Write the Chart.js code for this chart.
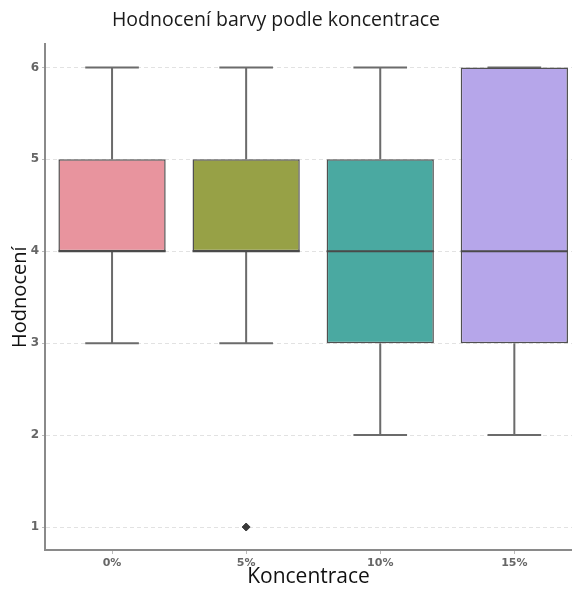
<!DOCTYPE html>
<html>
<head>
<meta charset="utf-8">
<script src="https://cdn.jsdelivr.net/npm/chart.js@4"></script>
<style>
  html, body { margin: 0; padding: 0; background: #fff; overflow: hidden; }
  canvas { display: block; }
</style>
</head>
<body>
<canvas id="boxChart" width="572" height="592"></canvas>
<script>
const categories = ['0%', '5%', '10%', '15%'];
const whiskerLow = [3, 3, 2, 2];
const q1 = [4, 4, 3, 3];
const medians = [4, 4, 4, 4];
const q3 = [5, 5, 5, 6];
const whiskerHigh = [6, 6, 6, 6];
const outlierCats = [1];
const outlierValues = [1];
const yTicks = [1, 2, 3, 4, 5, 6];
const boxColors = ['#e8949e', '#97a146', '#4aa9a1', '#b6a6ea'];

const lineGray = '#6b6b6b';

// whiskers under the boxes, medians on top
const whiskerPlugin = {
  id: 'whiskers',
  afterLayout(chart) {
    // title sits a little left of the canvas centre
    const t = chart.titleBlock;
    if (t) { t.left -= 20; }
  },
  beforeDatasetsDraw(chart) {
    const { ctx, scales: { x, y } } = chart;
    const meta = chart.getDatasetMeta(0);
    ctx.save();
    ctx.strokeStyle = lineGray;
    ctx.lineWidth = 2;
    categories.forEach((c, i) => {
      const cx = x.getPixelForValue(i);
      const half = meta.data[i].width / 4;
      const lo = y.getPixelForValue(whiskerLow[i]);
      const hi = y.getPixelForValue(whiskerHigh[i]);
      ctx.beginPath();
      ctx.moveTo(cx, lo);
      ctx.lineTo(cx, y.getPixelForValue(q1[i]));
      ctx.moveTo(cx, y.getPixelForValue(q3[i]));
      ctx.lineTo(cx, hi);
      ctx.moveTo(cx - half, lo);
      ctx.lineTo(cx + half, lo);
      ctx.moveTo(cx - half, hi);
      ctx.lineTo(cx + half, hi);
      ctx.stroke();
    });
    ctx.restore();
  },
  afterDatasetsDraw(chart) {
    const { ctx, scales: { x, y } } = chart;
    const meta = chart.getDatasetMeta(0);
    ctx.save();
    ctx.strokeStyle = '#4a4a4a';
    ctx.lineWidth = 2;
    categories.forEach((c, i) => {
      const bar = meta.data[i];
      const my = y.getPixelForValue(medians[i]);
      ctx.beginPath();
      ctx.moveTo(bar.x - bar.width / 2, my);
      ctx.lineTo(bar.x + bar.width / 2, my);
      ctx.stroke();
    });
    ctx.restore();
  }
};

const ctx = document.getElementById('boxChart').getContext('2d');
new Chart(ctx, {
  type: 'bar',
  data: {
    datasets: [{
      type: 'bar',
      data: categories.map((c, i) => ({ x: i, y: [q1[i], q3[i]] })),
      backgroundColor: boxColors,
      borderColor: '#505050',
      borderWidth: 1.5,
      borderSkipped: false,
      barPercentage: 0.8,
      categoryPercentage: 1,
      order: 2
    }, {
      type: 'scatter',
      data: outlierCats.map((c, i) => ({ x: c, y: outlierValues[i] })),
      pointStyle: 'rectRot',
      pointRadius: 4,
      backgroundColor: '#3a3a3a',
      borderColor: '#3a3a3a',
      order: 1
    }]
  },
  options: {
    responsive: false,
    animation: false,
    layout: { padding: 0, autoPadding: false },
    plugins: {
      legend: { display: false },
      tooltip: { enabled: false },
      title: {
        display: true,
        text: 'Hodnocení barvy podle koncentrace',
        color: '#1a1a1a',
        font: { family: 'Open Sans', size: 19.5, weight: 'normal' },
        padding: { top: 9, bottom: 12 }
      }
    },
    scales: {
      x: {
        type: 'linear',
        offset: false,
        min: -0.5,
        max: 3.43,
        afterBuildTicks: (scale) => { scale.ticks = categories.map((c, i) => ({ value: i })); },
        afterFit: (scale) => {
          scale.height = 42;
          scale.paddingLeft = 0;
          scale.paddingRight = 0;
        },
        ticks: {
          callback: (v) => categories[v],
          color: '#666',
          padding: 3,
          font: { family: 'DejaVu Sans', size: 11, weight: 'bold' }
        },
        grid: { offset: false, drawOnChartArea: false, tickLength: 4, tickColor: '#bbb' },
        border: { display: true, color: '#8a8a8a', width: 2 },
        title: {
          display: true,
          text: 'Koncentrace',
          color: '#111',
          font: { family: 'Open Sans', size: 21 },
          padding: { top: 0, bottom: 2 }
        }
      },
      y: {
        min: 0.75,
        max: 6.25,
        afterBuildTicks: (scale) => { scale.ticks = yTicks.map(v => ({ value: v })); },
        afterFit: (scale) => { scale.width = 45; },
        ticks: {
          color: '#666',
          padding: 3,
          font: { family: 'DejaVu Sans', size: 12, weight: 'bold' }
        },
        grid: { color: '#e2e2e2', tickLength: 3, tickColor: '#bbb', lineWidth: 1 },
        border: { display: true, color: '#8a8a8a', width: 2, dash: [4, 3] },
        title: {
          display: true,
          text: 'Hodnocení',
          color: '#111',
          font: { family: 'Open Sans', size: 20 },
          padding: { top: 8, bottom: 0 }
        }
      }
    }
  },
  plugins: [whiskerPlugin]
});
</script>
</body>
</html>
